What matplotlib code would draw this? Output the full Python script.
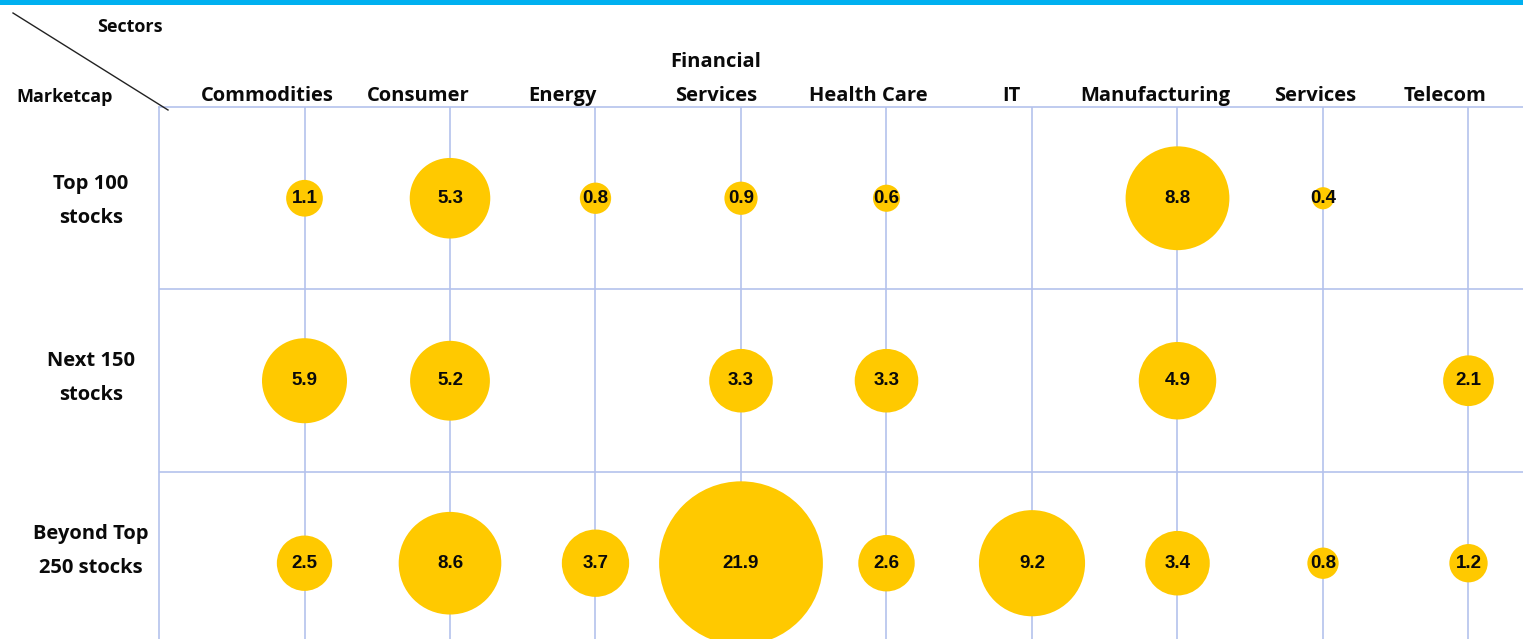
import matplotlib
matplotlib.use("Agg")
import matplotlib.pyplot as plt
import numpy as np

sectors = ["Commodities", "Consumer", "Energy", "Financial\nServices", "Health Care",
           "IT", "Manufacturing", "Services", "Telecom"]
marketcaps = ["Top 100\nstocks", "Next 150\nstocks", "Beyond Top\n250 stocks"]
top100 = [1.1, 5.3, 0.8, 0.9, 0.6, None, 8.8, 0.4, None]
next150 = [5.9, 5.2, None, 3.3, 3.3, None, 4.9, None, 2.1]
beyond250 = [2.5, 8.6, 3.7, 21.9, 2.6, 9.2, 3.4, 0.8, 1.2]
rows = [top100, next150, beyond250]

W, H = 1523, 639
fig = plt.figure(figsize=(W / 100, H / 100), dpi=100)
fig.patch.set_facecolor("white")

# blue top bar
fig.add_artist(plt.Rectangle((0, 1 - 5 / H), 1, 5 / H, transform=fig.transFigure,
                             color="#00B0F0", lw=0))

left_px, top_px = 159, 107
ax = fig.add_axes([left_px / W, 0, 1 - left_px / W, (H - top_px) / H])
ax.set_xlim(0, (W - left_px) / 145.5)
ax.set_ylim(2 + (H - 563) / 183, -0.5)
for s in ["right", "bottom"]:
    ax.spines[s].set_visible(False)
gridc = "#B4C2EC"
for s in ["left", "top"]:
    ax.spines[s].set_color(gridc)
    ax.spines[s].set_linewidth(1.2)
ax.set_xticks([])
ax.set_yticks([])

for i in range(len(sectors)):
    ax.axvline(i + 1, color=gridc, lw=1.2, zorder=1)
for j in range(len(marketcaps) - 1):
    ax.axhline(j + 0.5, color=gridc, lw=1.2, zorder=1)

k = 635
for j, row in enumerate(rows):
    for i, v in enumerate(row):
        if v is None:
            continue
        ax.scatter([i + 1], [j], s=k * v, color="#FFC900", edgecolors="none", zorder=3)
        ax.text(i + 1, j, f"{v}", ha="center", va="center", fontsize=13.5,
                fontweight="bold", family="Liberation Sans", color="#0A0A0A", zorder=4)

lab_font = dict(family="Open Sans", fontweight="bold", fontsize=14.5, color="#0A0A0A")
# label centres (pixel layout) relative to the grid
col_label_px = [267, 418, 562, 716, 868, 1011, 1155, 1315, 1445]
for name, xp in zip(sectors, col_label_px):
    fig.text(xp / W, 1 - 106 / H, name, ha="center", va="bottom", linespacing=1.95,
             **lab_font)
row_label_py = [201, 378, 551]
for name, yp in zip(marketcaps, row_label_py):
    fig.text(91 / W, 1 - yp / H, name, ha="center", va="center", linespacing=1.9,
             **lab_font)

fig.text(130 / W, 1 - 27 / H, "Sectors", ha="center", va="center",
         family="Open Sans", fontweight="bold", fontsize=13, color="#0A0A0A")
fig.text(65 / W, 1 - 97 / H, "Marketcap", ha="center", va="center",
         family="Open Sans", fontweight="bold", fontsize=13, color="#0A0A0A")
fig.add_artist(plt.Line2D([13 / W, 168 / W], [1 - 13 / H, 1 - 110 / H],
                          transform=fig.transFigure, color="#222222", lw=1.0))

fig.savefig("out.png", dpi=100)
